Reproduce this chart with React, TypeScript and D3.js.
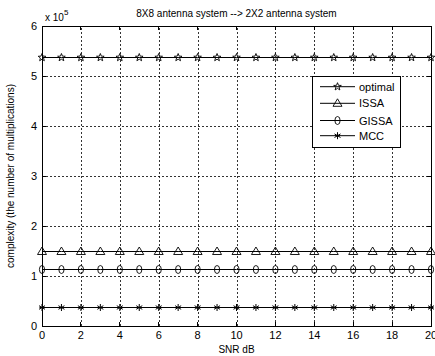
import React from 'react';
import * as d3 from 'd3';

// SNR points (dB) and complexity values (in units of 1e5)
const snr = d3.range(0, 21);
const optimal = snr.map(() => 5.37);
const issa = snr.map(() => 1.49);
const gissa = snr.map(() => 1.13);
const mcc = snr.map(() => 0.37);

const xTicks = [0, 2, 4, 6, 8, 10, 12, 14, 16, 18, 20];
const yTicks = [0, 1, 2, 3, 4, 5, 6];

const series = [
  { name: 'optimal', values: optimal, marker: 'star' },
  { name: 'ISSA', values: issa, marker: 'triangle' },
  { name: 'GISSA', values: gissa, marker: 'diamond' },
  { name: 'MCC', values: mcc, marker: 'asterisk' },
];

const W = 435;
const H = 356;
const margin = { top: 26, right: 4, bottom: 30, left: 42 };
const font = 'Liberation Sans, Arial, sans-serif';

const Marker = ({ type, x, y }: { type: string; x: number; y: number }) => {
  if (type === 'star') {
    const pts = d3.range(10).map(i => {
      const r = i % 2 === 0 ? 4 : 1.7;
      const a = -Math.PI / 2 + (i * Math.PI) / 5;
      return [x + r * Math.cos(a), y + r * Math.sin(a)].join(',');
    });
    return <polygon points={pts.join(' ')} fill="none" stroke="#000" strokeWidth={0.9} />;
  }
  if (type === 'triangle') {
    return (
      <polygon
        points={`${x},${y - 4.5} ${x - 4.5},${y + 3} ${x + 4.5},${y + 3}`}
        fill="none"
        stroke="#000"
        strokeWidth={0.9}
      />
    );
  }
  if (type === 'diamond') {
    return <ellipse cx={x} cy={y} rx={2.6} ry={4} fill="none" stroke="#000" strokeWidth={0.9} />;
  }
  // asterisk
  return (
    <g stroke="#000" strokeWidth={1}>
      <line x1={x} y1={y - 3.5} x2={x} y2={y + 3.5} />
      <line x1={x - 3} x2={x + 3} y1={y - 1.8} y2={y + 1.8} />
      <line x1={x - 3} x2={x + 3} y1={y + 1.8} y2={y - 1.8} />
      <line x1={x - 2.5} x2={x + 2.5} y1={y} y2={y} />
    </g>
  );
};

export default function App() {
  const x = d3.scaleLinear().domain([0, 20]).range([margin.left, W - margin.right]);
  const y = d3.scaleLinear().domain([0, 6]).range([H - margin.bottom, margin.top]);
  const line = d3
    .line<number>()
    .x((_, i) => x(snr[i]))
    .y(d => y(d));

  const x0 = x(0);
  const x1 = x(20);
  const y0 = y(0);
  const y1 = y(6);

  const legend = { x: 312, y: 76, w: 88, h: 71, rowY: [86.7, 103.3, 120.5, 135.7] };

  return (
    <svg width={W} height={H} style={{ position: 'absolute', left: 0, top: 0, background: '#fff' }}>
      <rect width={W} height={H} fill="#fff" />

      {/* grid */}
      <g stroke="#000" strokeWidth={0.8} strokeDasharray="2,2" shapeRendering="crispEdges">
        {xTicks.slice(1, -1).map(t => (
          <line key={'gx' + t} x1={Math.round(x(t)) + 0.5} x2={Math.round(x(t)) + 0.5} y1={y0} y2={y1} />
        ))}
        {yTicks.slice(1, -1).map(t => (
          <line key={'gy' + t} x1={x0} x2={x1} y1={Math.round(y(t)) + 0.5} y2={Math.round(y(t)) + 0.5} />
        ))}
      </g>

      {/* series */}
      {series.map(s => (
        <g key={s.name}>
          <path d={line(s.values) || ''} fill="none" stroke="#000" strokeWidth={1} />
          {s.values.map((v, i) => (
            <Marker key={i} type={s.marker} x={x(snr[i])} y={y(v)} />
          ))}
        </g>
      ))}

      {/* axes box */}
      <rect x={x0} y={y1} width={x1 - x0} height={y0 - y1} fill="none" stroke="#000" strokeWidth={1} shapeRendering="crispEdges" />
      <g stroke="#000" strokeWidth={1} shapeRendering="crispEdges">
        {xTicks.map(t => (
          <g key={'tx' + t}>
            <line x1={x(t)} x2={x(t)} y1={y0} y2={y0 - 4} />
            <line x1={x(t)} x2={x(t)} y1={y1} y2={y1 + 4} />
          </g>
        ))}
        {yTicks.map(t => (
          <g key={'ty' + t}>
            <line x1={x0} x2={x0 + 4} y1={y(t)} y2={y(t)} />
            <line x1={x1} x2={x1 - 4} y1={y(t)} y2={y(t)} />
          </g>
        ))}
      </g>

      {/* tick labels */}
      <g fontFamily={font} fontSize={11} fill="#000">
        {xTicks.map(t => (
          <text key={'lx' + t} x={x(t)} y={y0 + 13} textAnchor="middle">
            {t}
          </text>
        ))}
        {yTicks.map(t => (
          <text key={'ly' + t} x={x0 - 5} y={y(t) + 4} textAnchor="end">
            {t}
          </text>
        ))}
      </g>

      {/* exponent */}
      <text x={45} y={21} fontFamily={font} fontSize={10} fill="#000">
        x 10
        <tspan dy={-6} fontSize={8}>
          5
        </tspan>
      </text>

      {/* title & labels */}
      <text x={(x0 + x1) / 2} y={17} textAnchor="middle" fontFamily={font} fontSize={10} fill="#000">
        8X8 antenna system --&gt; 2X2 antenna system
      </text>
      <text x={(x0 + x1) / 2} y={353} textAnchor="middle" fontFamily={font} fontSize={10} fill="#000">
        SNR dB
      </text>
      <text
        transform={`translate(14,${(y0 + y1) / 2}) rotate(-90)`}
        textAnchor="middle"
        fontFamily={font}
        fontSize={10}
        fill="#000"
      >
        complexity (the number of multiplications)
      </text>

      {/* legend */}
      <rect x={legend.x} y={legend.y} width={legend.w} height={legend.h} fill="#fff" stroke="#000" strokeWidth={1} shapeRendering="crispEdges" />
      {series.map((s, i) => (
        <g key={'lg' + s.name}>
          <line x1={320} x2={355} y1={legend.rowY[i]} y2={legend.rowY[i]} stroke="#000" strokeWidth={1} />
          <Marker type={s.marker} x={337.5} y={legend.rowY[i]} />
          <text x={359} y={legend.rowY[i] + 4} fontFamily={font} fontSize={11} fill="#000">
            {s.name}
          </text>
        </g>
      ))}
    </svg>
  );
}
